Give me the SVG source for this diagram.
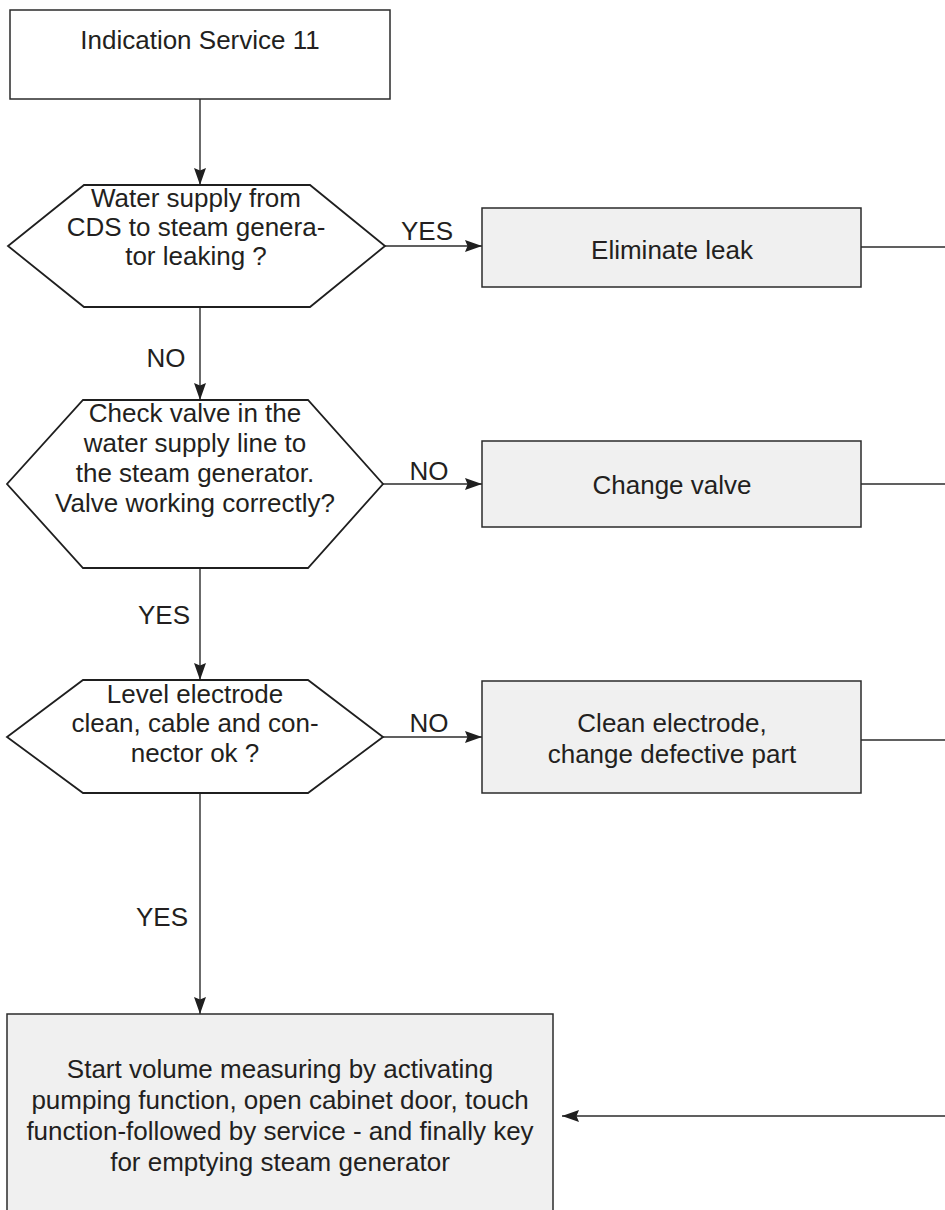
<svg xmlns="http://www.w3.org/2000/svg" width="945" height="1210" viewBox="0 0 945 1210">
  <defs>
    <style>
      .box { fill: #ffffff; stroke: #2b2b2b; stroke-width: 1.5; }
      .act { fill: #f0f0f0; stroke: #2b2b2b; stroke-width: 1.5; }
      .dec { fill: #ffffff; stroke: #1f1f1f; stroke-width: 1.8; stroke-linejoin: miter; }
      .txt { font-family: "Liberation Sans", Arial, sans-serif; font-size: 26px; fill: #231f20; text-anchor: middle; }
      .lbl { font-family: "Liberation Sans", Arial, sans-serif; font-size: 26px; fill: #231f20; text-anchor: middle; }
      .ln { fill: none; stroke: #2b2b2b; stroke-width: 1.4; }
    </style>
    <marker id="arr" markerUnits="userSpaceOnUse" markerWidth="18" markerHeight="13" refX="17" refY="6.5" orient="auto">
      <path d="M0,0.5 L17,6.5 L0,12.5 L2.5,6.5 z" fill="#1f1f1f"/>
    </marker>
  </defs>

  <!-- connectors and their branch labels -->
  <g id="connectors">
    <line class="ln" x1="200" y1="99" x2="200" y2="185" marker-end="url(#arr)"/>
    <line class="ln" x1="385" y1="246" x2="482" y2="246" marker-end="url(#arr)"/>
    <line class="ln" x1="861" y1="247" x2="945" y2="247"/>
    <line class="ln" x1="200" y1="307" x2="200" y2="400" marker-end="url(#arr)"/>
    <line class="ln" x1="383" y1="484" x2="482" y2="484" marker-end="url(#arr)"/>
    <line class="ln" x1="861" y1="484" x2="945" y2="484"/>
    <line class="ln" x1="200" y1="568" x2="200" y2="680" marker-end="url(#arr)"/>
    <line class="ln" x1="383" y1="737" x2="482" y2="737" marker-end="url(#arr)"/>
    <line class="ln" x1="861" y1="740" x2="945" y2="740"/>
    <line class="ln" x1="200" y1="793" x2="200" y2="1014" marker-end="url(#arr)"/>
    <line class="ln" x1="945" y1="1116" x2="562" y2="1116" marker-end="url(#arr)"/>
    <text class="lbl" x="427" y="240">YES</text>
    <text class="lbl" x="166" y="367">NO</text>
    <text class="lbl" x="429" y="480">NO</text>
    <text class="lbl" x="164" y="624">YES</text>
    <text class="lbl" x="429" y="732">NO</text>
    <text class="lbl" x="162" y="926">YES</text>
  </g>

  <g id="start">
    <rect class="box" x="10" y="10" width="380" height="89"/>
    <text class="txt" x="200" y="49">Indication Service 11</text>
  </g>

  <g id="q-leak">
    <polygon class="dec" points="84,185 310,185 385,246 310,307 84,307 8,246"/>
    <text class="txt" x="196" y="207">Water supply from</text>
    <text class="txt" x="196" y="236">CDS to steam genera-</text>
    <text class="txt" x="196" y="265">tor leaking ?</text>
  </g>

  <g id="eliminate-leak">
    <rect class="act" x="482" y="208" width="379" height="79"/>
    <text class="txt" x="672" y="259">Eliminate leak</text>
  </g>

  <g id="q-valve">
    <polygon class="dec" points="83,400 308,400 383,484 308,568 83,568 7,484"/>
    <text class="txt" x="195" y="422">Check valve in the</text>
    <text class="txt" x="195" y="452">water supply line to</text>
    <text class="txt" x="195" y="482">the steam generator.</text>
    <text class="txt" x="195" y="512">Valve working correctly?</text>
  </g>

  <g id="change-valve">
    <rect class="act" x="482" y="441" width="379" height="86"/>
    <text class="txt" x="672" y="494">Change valve</text>
  </g>

  <g id="q-electrode">
    <polygon class="dec" points="83,680 308,680 383,737 308,793 83,793 7,737"/>
    <text class="txt" x="195" y="703">Level electrode</text>
    <text class="txt" x="195" y="732">clean, cable and con-</text>
    <text class="txt" x="195" y="762">nector ok ?</text>
  </g>

  <g id="clean-electrode">
    <rect class="act" x="482" y="681" width="379" height="112"/>
    <text class="txt" x="672" y="732">Clean electrode,</text>
    <text class="txt" x="672" y="763">change defective part</text>
  </g>

  <g id="volume-measuring">
    <rect class="act" x="7" y="1014" width="546" height="210"/>
    <text class="txt" x="280" y="1078">Start volume measuring by activating</text>
    <text class="txt" x="280" y="1109">pumping function, open cabinet door, touch</text>
    <text class="txt" x="280" y="1140">function-followed by service - and finally key</text>
    <text class="txt" x="280" y="1171">for emptying steam generator</text>
  </g>
</svg>
